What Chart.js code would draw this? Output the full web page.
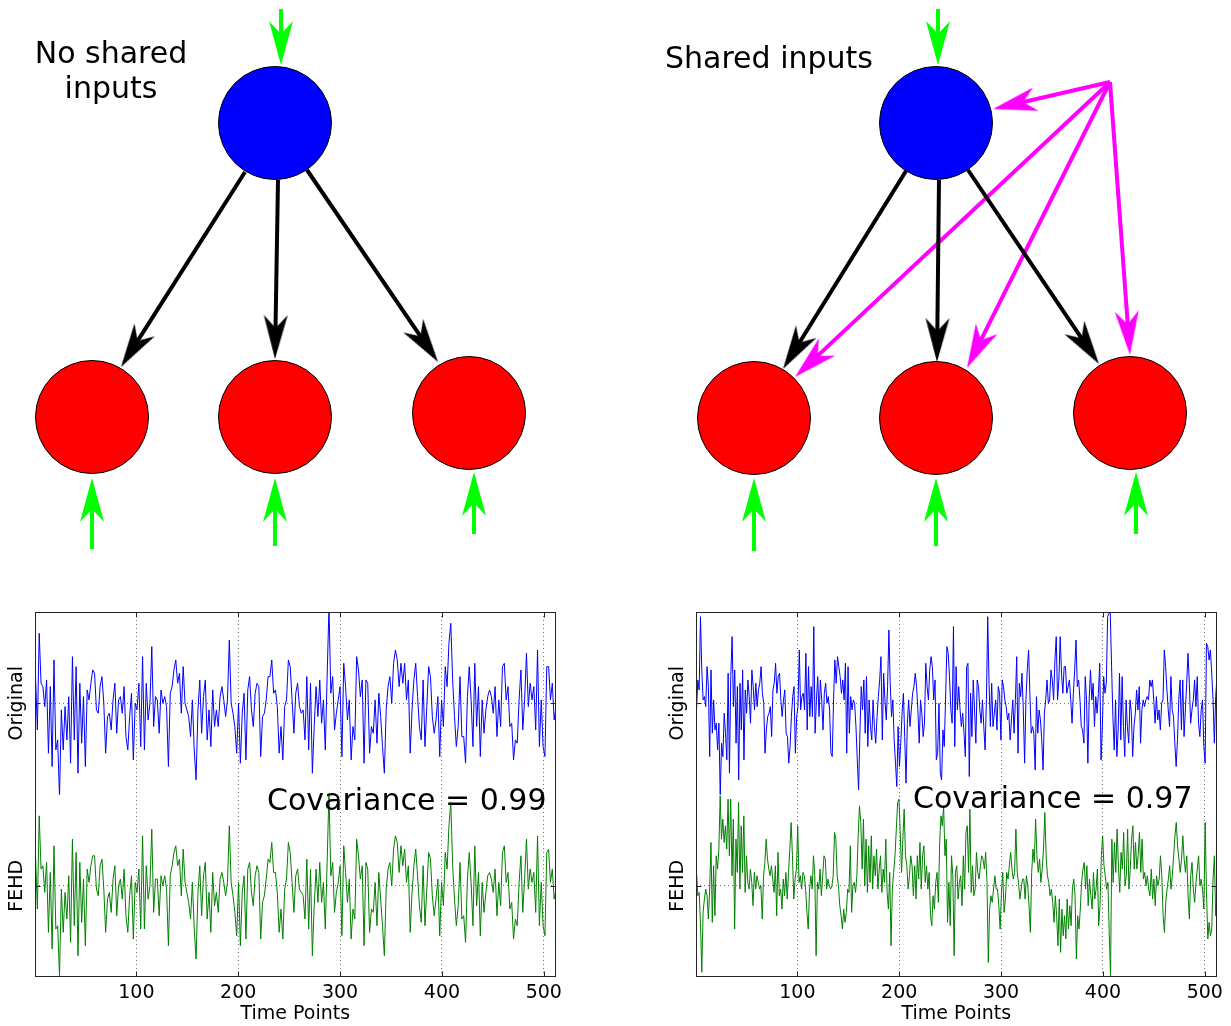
<!DOCTYPE html>
<html><head><meta charset="utf-8">
<script src="https://cdn.jsdelivr.net/npm/chart.js@4.4.0/dist/chart.umd.min.js"></script>
<style>
html,body{margin:0;padding:0;background:#fff;width:1231px;height:1026px;overflow:hidden;}
.box{position:absolute;}
.lbl{position:absolute;color:#000;white-space:nowrap;font-family:"DejaVu Sans",sans-serif;line-height:1;}
</style></head><body>
<div class="box" style="left:0;top:0;width:1231px;height:590px"><canvas id="diagram" width="1231" height="590"></canvas></div>
<div class="box" style="left:0;top:600px;width:570px;height:426px"><canvas id="panelA" width="570" height="426"></canvas></div>
<div class="box" style="left:661px;top:600px;width:570px;height:426px"><canvas id="panelB" width="570" height="426"></canvas></div>
<div class="lbl" id="titleA" style="left:11px;top:35px;width:200px;text-align:center;font-size:30px;line-height:35px">No shared<br>inputs</div>
<div class="lbl" id="titleB" style="left:665px;top:43px;font-size:30px">Shared inputs</div>
<div class="lbl" id="covA" style="left:267px;top:785px;font-size:30px"></div>
<div class="lbl" id="covB" style="left:913px;top:783px;font-size:30px"></div>
<script>
// ---------- data ----------
const timeTicks = [100, 200, 300, 400, 500];
const timeStart = 1, timeEnd = 512;
const covariances = [0.99, 0.97];

// No shared inputs: original signal and its FEHD reconstruction
const origNoShared = [0.8,-0.8,2.1,0.6,0.5,-0.1,0.7,-1.5,0.5,-1.9,1.3,-1.4,-1.1,-2.8,-0.2,-1.4,-0.1,-1.1,0.2,-1.8,1.4,-1.1,1.1,-2.1,0.6,-1.2,0.2,-1.9,0.4,0.1,0.6,1.0,0.9,-0.2,-0.3,0.5,0.8,0.0,-1.5,-0.4,-0.3,-0.8,0.1,0.6,-0.9,0.1,0.2,-0.3,0.5,-1.0,-1.4,-0.4,0.3,-1.7,0.0,-0.2,0.6,-1.3,1.4,-1.4,0.6,-0.5,0.0,1.7,-0.7,0.2,0.1,-0.9,0.4,0.0,0.2,-0.1,-1.9,0.3,0.5,1.0,1.3,0.6,0.9,-0.3,1.1,0.0,-0.2,-0.4,-1.0,0.1,-1.4,-2.3,-0.2,0.7,-0.9,0.2,0.7,-1.1,-0.2,-1.3,0.4,-0.7,-0.2,-0.7,0.2,0.5,0.1,-0.4,0.1,1.9,0.0,-0.3,-0.7,-1.5,0.0,-1.8,-0.3,0.3,-1.7,0.4,0.8,-0.2,-0.7,0.3,0.6,0.5,-1.6,-0.4,-0.3,0.1,0.8,0.8,1.3,0.3,0.4,-0.1,-1.5,-0.7,-1.7,-0.1,0.1,1.3,1.1,0.1,-0.9,0.3,0.6,-0.1,-0.3,
-0.2,-1.1,0.8,-1.4,0.6,-2.1,-0.7,0.5,-0.4,0.7,-0.6,0.1,-1.4,0.8,2.9,0.3,0.8,-0.8,-0.3,0.1,0.5,-1.6,1.2,0.5,-0.5,0.1,-1.7,-0.7,-1.1,1.4,1.0,0.2,0.7,-1.8,0.7,0.6,-1.5,-0.7,-0.9,0.1,-1.2,0.3,-0.4,-1.3,-2.1,-0.2,0.5,0.8,0.0,1.2,1.6,1.3,0.5,1.2,0.6,1.2,0.1,0.7,-1.5,-0.2,0.7,1.2,0.2,-0.7,-1.1,0.7,-1.3,-0.1,1.1,0.8,-0.4,-0.9,-0.5,0.2,-1.6,0.1,-0.7,1.1,0.5,1.8,2.4,0.7,-0.4,-1.3,-0.7,0.8,-1.0,-1.0,-1.8,0.2,1.1,0.1,-1.3,1.2,-0.7,0.5,-1.6,0.1,-0.9,-0.2,0.2,0.4,0.2,-0.3,0.5,-1.0,0.1,-0.7,1.1,1.2,0.1,0.5,-0.7,-0.6,-1.7,-1.1,-1.2,0.1,1.0,-0.8,0.1,1.5,-0.1,0.6,0.1,0.5,-0.8,1.6,-1.3,0.1,-1.3,-1.6,1.1,1.1,0.1,0.6,-0.5,-0.1];
const fehdNoShared = [0.9,-0.7,2.1,0.5,0.6,-0.2,0.7,-1.4,0.4,-1.9,1.2,-1.3,-1.2,-2.7,-0.1,-1.4,-0.2,-1.0,0.3,-1.7,1.4,-1.2,1.0,-2.1,0.7,-1.1,0.2,-1.8,0.5,0.1,0.6,0.9,0.9,-0.1,-0.3,0.6,0.8,-0.1,-1.4,-0.4,-0.2,-0.8,0.2,0.6,-0.9,0.0,0.2,-0.4,0.5,-0.9,-1.4,-0.3,0.3,-1.6,0.1,-0.2,0.5,-1.3,1.5,-1.3,0.6,-0.4,0.0,1.7,-0.8,0.2,0.2,-0.9,0.3,0.0,0.3,-0.1,-1.8,0.3,0.6,1.0,1.2,0.6,0.8,-0.3,1.1,0.1,-0.2,-0.5,-1.0,0.1,-1.3,-2.2,-0.2,0.6,-0.9,0.3,0.7,-1.0,-0.2,-1.4,0.4,-0.6,-0.2,-0.8,0.2,0.4,0.1,-0.3,0.1,1.8,0.1,-0.3,-0.8,-1.5,0.1,-1.8,-0.2,0.3,-1.6,0.5,0.7,-0.2,-0.6,0.3,0.6,0.4,-1.6,-0.5,-0.3,0.2,0.8,0.7,1.3,0.4,0.4,-0.2,-1.4,-0.7,-1.6,-0.1,0.2,1.3,1.0,0.1,-0.8,0.3,0.5,-0.1,-0.2,
-0.3,-1.0,0.8,-1.3,0.5,-2.1,-0.6,0.5,-0.5,0.7,-0.5,0.1,-1.3,0.7,2.8,0.3,0.7,-0.8,-0.2,0.1,0.6,-1.5,1.2,0.4,-0.5,0.2,-1.6,-0.7,-1.0,1.4,0.9,0.2,0.6,-1.8,0.7,0.5,-1.4,-0.7,-0.8,0.1,-1.2,0.4,-0.4,-1.2,-2.1,-0.1,0.5,0.7,0.0,1.1,1.5,1.3,0.4,1.2,0.6,1.1,0.1,0.6,-1.4,-0.2,0.6,1.1,0.3,-0.6,-1.1,0.6,-1.2,-0.1,1.0,0.8,-0.3,-0.9,-0.4,0.2,-1.5,0.1,-0.6,1.0,0.5,1.8,2.5,0.6,-0.4,-1.2,-0.6,0.7,-1.0,-0.9,-1.7,0.2,1.0,0.1,-1.2,1.2,-0.6,0.4,-1.5,0.1,-0.8,-0.2,0.3,0.4,0.2,-0.2,0.5,-0.9,0.1,-0.6,1.0,1.2,0.1,0.4,-0.7,-0.5,-1.6,-1.0,-1.2,0.1,0.9,-0.8,0.2,1.4,-0.1,0.5,0.1,0.4,-0.8,1.5,-1.2,0.1,-1.2,-1.5,1.0,1.1,0.1,0.5,-0.4,-0.1];

// Shared inputs: original signal and its FEHD reconstruction
const origShared = [-0.2,0.7,0.4,2.6,1.0,0.1,0.2,-0.1,1.1,0.5,-1.6,1.0,-0.9,0.1,-0.8,-0.6,-1.4,-0.6,-2.8,-1.2,-1.6,-0.3,-0.9,-1.7,0.9,-2.1,0.8,2.0,-0.1,1.0,-1.2,0.5,-2.3,0.6,-0.8,1.0,-1.7,0.4,-0.3,0.7,0.2,-0.6,1.0,0.5,-0.2,0.6,-0.1,0.4,0.6,1.1,0.3,0.0,-1.5,-0.8,-0.4,-0.3,-0.1,-1.0,0.4,0.6,1.2,0.3,0.8,0.9,0.1,-0.4,0.1,0.4,-0.9,-1.0,-1.8,-1.3,-0.4,0.2,0.5,-1.5,-0.4,-0.1,1.6,-0.2,0.2,0.3,-0.2,1.5,-0.8,1.1,-0.4,0.5,-0.4,2.3,-0.9,0.1,0.8,-0.4,0.7,0.1,-0.8,0.3,0.6,0.0,0.2,-0.2,-1.5,-1.6,0.1,1.3,0.6,1.4,1.1,0.8,0.3,0.7,0.1,1.2,-1.5,1.1,-0.9,0.2,-0.2,0.1,0.0,-0.7,-1.7,-2.6,-0.9,0.5,-0.2,0.7,-0.9,0.8,-1.3,0.1,-0.7,-1.1,0.1,-0.7,-1.2,-0.4,0.2,0.7,1.4,-1.1,0.9,0.1,-0.5,0.5,2.2,0.6,-0.4,0.1,-1.1,-1.8,-2.5,-0.7,-1.9,-1.2,-0.3,0.3,-1.0,-2.4,-0.6,0.1,-0.7,-0.2,0.3,0.5,0.9,0.5,-0.2,-1.2,0.1,-0.3,-1.0,-0.6,1.2,0.5,0.1,1.0,1.4,1.1,0.1,0.7,-1.7,-1.5,0.0,-2.1,-2.3,-0.8,-1.3,0.1,1.7,1.5,
0.8,-0.2,-0.6,2.3,-1.3,1.1,-0.2,0.5,-0.2,-0.7,-0.3,-0.9,-1.6,1.1,1.2,-2.2,0.3,-1.0,0.7,-0.2,-1.2,0.7,0.5,-0.2,-0.6,0.1,-0.7,-1.4,0.1,2.6,0.6,-0.7,0.6,-0.7,-0.3,0.1,-0.8,0.5,0.3,-1.1,0.7,0.5,0.1,-0.1,-0.5,-0.3,-1.1,-0.5,0.1,-0.9,0.1,1.4,-1.5,0.6,0.2,0.9,-0.2,-1.8,0.1,1.0,1.6,0.3,-0.9,-0.7,-0.9,-2.0,0.2,-0.9,-0.2,-0.5,-1.1,-2.0,-0.3,0.1,0.7,0.0,0.1,1.0,0.7,0.1,1.3,2.0,0.1,0.7,2.0,0.9,0.3,1.1,1.1,0.3,0.5,0.7,0.1,-0.6,0.3,1.0,1.9,0.5,0.7,0.1,-0.7,-0.8,-1.2,0.8,0.1,-1.8,0.1,1.0,0.1,0.6,-0.7,0.2,-0.3,0.3,1.2,-1.7,-0.7,0.8,0.3,0.6,2.6,2.7,2.7,1.1,-0.4,-1.4,0.1,-1.6,-0.8,0.9,-1.1,0.8,-0.7,-1.6,0.1,-0.7,-1.2,0.1,-0.3,-1.6,-0.7,-0.3,0.4,-0.2,0.5,-1.2,-0.2,0.1,-0.1,0.1,0.2,0.1,0.7,0.5,0.7,0.1,-0.6,0.2,-0.5,-0.2,-0.8,0.0,0.1,1.6,1.1,0.4,-0.2,-0.7,0.8,-0.2,-0.4,-1.2,-1.9,-1.1,0.1,0.7,-0.8,0.7,-1.0,-0.2,0.6,1.5,0.6,-0.6,-0.2,0.1,0.7,-0.1,0.8,-0.6,-1.0,-0.2,0.1,-1.3,-1.8,1.8,1.7,1.3,1.6,0.9,0.1,-1.2,0.2,0.8];
const fehdShared = [0.4,-0.3,-0.2,-1.1,-2.6,-0.8,-0.4,-0.1,-0.3,-1.0,-0.1,1.3,-1.1,0.6,-0.9,0.9,0.5,1.1,2.7,1.4,2.0,1.3,1.8,1.1,2.6,0.9,2.6,0.3,2.0,-1.3,1.4,0.4,2.5,-0.1,1.8,0.4,2.1,-0.2,0.9,0.1,-0.1,0.5,0.1,-0.6,0.4,-0.1,0.3,0.1,-0.1,0.0,-1.0,0.3,0.7,1.4,0.8,0.5,0.3,0.6,0.2,-0.2,0.6,-0.9,1.0,-0.3,-0.1,-0.7,0.2,-0.3,0.4,-0.4,0.4,1.1,1.9,0.9,-0.4,0.2,0.5,1.8,0.1,0.3,-0.1,0.4,0.3,-0.1,-0.8,-1.3,-0.1,0.3,-0.1,0.9,0.3,-2.1,0.1,-0.1,0.5,-0.3,0.3,0.9,0.8,-0.1,0.2,0.0,-0.1,0.0,0.3,1.6,1.4,0.3,0.0,-0.6,-0.9,-1.3,-0.7,-1.1,-0.8,-0.1,-0.2,1.2,-0.8,0.0,0.1,-0.2,0.3,1.5,2.4,1.9,0.5,2.0,0.0,1.4,-0.2,1.2,0.1,1.5,-0.1,0.9,0.3,1.1,-0.1,0.5,0.9,-0.2,0.5,0.1,1.4,-0.2,-0.7,0.4,-1.8,-0.1,0.4,0.9,1.7,2.5,2.6,1.6,0.4,1.4,2.3,0.9,0.6,-0.1,0.3,0.9,0.6,-0.3,0.6,-0.4,0.9,0.2,1.3,-0.1,0.9,1.2,0.1,0.6,-0.1,0.4,-0.9,-1.2,-0.3,-0.7,0.1,0.4,-0.5,1.3,2.1,1.8,2.4,0.9,1.4,-1.1,0.1,
-1.2,0.9,0.3,-2.1,0.4,0.6,-0.4,0.1,0.3,-0.6,0.9,-0.1,1.6,1.8,0.4,2.3,-0.2,0.6,-0.3,-0.1,1.0,0.4,0.2,0.6,0.9,0.8,0.5,1.0,0.1,-2.3,-0.7,-0.3,-0.5,-0.1,0.3,-0.1,-0.1,-0.6,-1.3,-0.2,0.4,-0.8,-0.4,0.4,0.2,0.6,1.0,0.5,0.2,0.4,1.7,0.4,0.1,-0.4,-0.1,0.2,0.2,-0.4,0.3,0.0,-0.6,-1.4,0.4,1.1,0.7,2.0,0.9,0.4,0.8,0.1,0.5,1.1,2.2,0.9,0.3,0.1,-0.3,-0.1,-0.5,-1.1,-0.3,-0.9,-1.8,-0.4,-2.0,-0.7,-1.5,-0.9,-1.6,-0.4,-1.3,-0.6,-1.2,-0.1,0.2,-0.3,-2.2,-0.9,-1.3,-0.7,0.1,0.5,0.7,-0.1,0.6,-0.6,0.2,-0.3,-0.7,0.4,-0.4,-0.1,0.5,-1.2,-0.6,0.9,1.5,0.6,0.3,-0.1,0.1,-1.4,-2.7,1.4,0.1,1.3,0.4,1.7,0.6,-0.2,1.0,0.5,1.6,0.0,0.3,1.7,-0.1,0.5,1.4,1.8,0.5,1.3,0.5,0.9,1.6,0.4,1.4,0.2,0.4,0.0,0.3,-0.1,-0.3,0.5,-0.4,0.2,-0.6,0.3,0.0,0.2,0.9,0.3,-0.9,-1.4,-0.5,-0.1,0.2,0.6,-0.1,0.3,0.9,1.5,1.9,1.2,0.8,0.4,0.8,1.5,0.8,0.4,0.9,-0.3,-1.0,0.3,0.7,-0.1,-0.5,0.1,0.5,0.9,0.0,0.2,-0.1,-0.7,1.9,-0.2,-1.6,-1.1,-1.5,-1.3,0.2,0.9,-0.9,-0.3];

// Network diagrams (diagram units: 1 unit = 100 px of the figure)
const diagramNodes = [ // [x, y, role]
  [2.75, 1.23, 'driver'], [0.92, 4.17, 'target'], [2.75, 4.17, 'target'], [4.69, 4.13, 'target'],
  [9.36, 1.23, 'driver'], [7.54, 4.18, 'target'], [9.36, 4.18, 'target'], [11.30, 4.13, 'target']
];
const diagramArrows = [ // [xFrom, yFrom, xTo, yTo, kind]
  [2.81, 0.09, 2.81, 0.65, 'input'], [0.92, 5.49, 0.92, 4.78, 'input'], [2.75, 5.46, 2.75, 4.78, 'input'], [4.74, 5.34, 4.74, 4.72, 'input'],
  [2.45, 1.72, 1.21, 3.67, 'link'], [2.78, 1.80, 2.75, 3.59, 'link'], [3.07, 1.70, 4.38, 3.62, 'link'],
  [9.38, 0.09, 9.38, 0.65, 'input'], [7.54, 5.51, 7.54, 4.78, 'input'], [9.36, 5.46, 9.36, 4.78, 'input'], [11.36, 5.34, 11.36, 4.72, 'input'],
  [9.06, 1.71, 7.83, 3.69, 'link'], [9.39, 1.80, 9.37, 3.62, 'link'], [9.68, 1.70, 10.99, 3.64, 'link'],
  [11.10, 0.82, 9.93, 1.09, 'shared'], [11.10, 0.82, 7.95, 3.77, 'shared'], [11.10, 0.82, 9.67, 3.68, 'shared'], [11.10, 0.82, 11.30, 3.55, 'shared']
];
const panelTitles = ['No shared\ninputs', 'Shared inputs'];

// ---------- styles ----------
const FONT = 'DejaVu Sans';
Chart.defaults.font.family = FONT;
const nodeFill = {driver: '#0000ff', target: '#ff0000'};
const arrowColor = {input: '#00ff00', link: '#000000', shared: '#ff00ff'};

function headImage(color) {
  const c = document.createElement('canvas');
  c.width = 100; c.height = 100;
  const g = c.getContext('2d');
  g.fillStyle = color;
  g.beginPath();
  g.moveTo(50, 50); g.lineTo(6, 38); g.lineTo(19, 50); g.lineTo(6, 62); g.closePath();
  g.fill();
  return c;
}

// ---------- diagram chart ----------
const heads = {};
Object.keys(arrowColor).forEach(k => heads[k] = headImage(arrowColor[k]));
const headSets = [], shaftSets = [];
Object.keys(arrowColor).forEach(kind => {
  const list = diagramArrows.filter(a => a[4] === kind);
  headSets.push({
    data: list.map(a => ({x: a[2], y: a[3]})),
    showLine: false,
    pointStyle: heads[kind],
    pointRadius: 5,
    pointRotation: list.map(a => Math.atan2(a[3] - a[1], a[2] - a[0]) * 180 / Math.PI)
  });
  list.forEach(a => {
    const dx = a[2] - a[0], dy = a[3] - a[1], len = Math.hypot(dx, dy);
    const back = 0.28;
    shaftSets.push({
      data: [{x: a[0], y: a[1]}, {x: a[2] - dx / len * back, y: a[3] - dy / len * back}],
      showLine: true, borderColor: arrowColor[kind], borderWidth: 4,
      borderCapStyle: 'butt', pointRadius: 0
    });
  });
});
const nodeSet = {
  data: diagramNodes.map(n => ({x: n[0], y: n[1]})),
  showLine: false,
  pointRadius: 56.5,
  pointBackgroundColor: diagramNodes.map(n => nodeFill[n[2]]),
  pointBorderColor: '#000',
  pointBorderWidth: 1
};
new Chart(document.getElementById('diagram'), {
  type: 'scatter',
  data: {datasets: [...headSets, ...shaftSets, nodeSet]},
  options: {
    responsive: false, animation: false, events: [],
    layout: {padding: 0, autoPadding: false},
    plugins: {legend: {display: false}, tooltip: {enabled: false}},
    scales: {
      x: {type: 'linear', min: 0, max: 12.31, display: false},
      y: {type: 'linear', min: 0, max: 5.90, reverse: true, display: false}
    }
  }
});

// ---------- time-series panels ----------
const framePlugin = {
  id: 'frame',
  afterDraw(chart) {
    const {ctx, chartArea: a, scales} = chart;
    const L = Math.round(a.left) + 0.5, R = Math.round(a.right) - 0.5;
    const T = Math.round(a.top) + 0.5, B = Math.round(a.bottom) - 0.5;
    ctx.save();
    ctx.strokeStyle = '#262626';
    ctx.lineWidth = 1;
    ctx.strokeRect(L, T, R - L, B - T);
    ctx.beginPath();
    scales.x.ticks.forEach(t => {
      const px = Math.round(scales.x.getPixelForValue(t.value)) + 0.5;
      ctx.moveTo(px, B); ctx.lineTo(px, B - 5);
      ctx.moveTo(px, T); ctx.lineTo(px, T + 5);
    });
    ['yOrig', 'yFehd'].forEach(id => {
      const py = Math.round(scales[id].getPixelForValue(0)) + 0.5;
      ctx.moveTo(L, py); ctx.lineTo(L + 5, py);
      ctx.moveTo(R, py); ctx.lineTo(R - 5, py);
    });
    ctx.stroke();
    ctx.restore();
  }
};

function toPoints(arr) {
  return arr.map((v, i) => ({x: timeStart + i * (timeEnd - timeStart) / (arr.length - 1), y: v}));
}
function yAxis(title, weight) {
  return {
    type: 'linear', position: 'left', stack: 'signals', stackWeight: 1, weight: weight,
    min: -2.74, max: 2.74,
    afterBuildTicks: s => { s.ticks = [{value: 0}]; },
    afterFit: s => { s.width = 34.5; },
    ticks: {display: false},
    grid: {color: 'rgba(0,0,0,0.55)', drawTicks: false, lineWidth: 1},
    border: {display: false, dash: [1, 3]},
    title: {display: true, text: title, color: '#000', font: {family: FONT, size: 19}, padding: {top: 6, bottom: 0}}
  };
}
function panelConfig(orig, fehd) {
  return {
    type: 'line',
    data: {datasets: [
      {label: 'Original', data: toPoints(orig), yAxisID: 'yOrig', borderColor: '#0000ff', borderWidth: 1, pointRadius: 0, tension: 0, fill: false},
      {label: 'FEHD', data: toPoints(fehd), yAxisID: 'yFehd', borderColor: '#008000', borderWidth: 1, pointRadius: 0, tension: 0, fill: false}
    ]},
    options: {
      responsive: false, animation: false, events: [],
      layout: {padding: {top: 12, right: 14, left: 0, bottom: 0}, autoPadding: false},
      plugins: {legend: {display: false}, tooltip: {enabled: false}},
      scales: {
        x: {
          type: 'linear', min: 0, max: 512,
          afterBuildTicks: s => { s.ticks = timeTicks.map(v => ({value: v})); },
          afterFit: s => { s.height = 49; },
          grid: {color: 'rgba(0,0,0,0.55)', drawTicks: false, lineWidth: 1},
          border: {display: false, dash: [1, 3]},
          ticks: {color: '#000', font: {family: FONT, size: 19}, padding: 5, maxRotation: 0, autoSkip: false},
          title: {display: true, text: 'Time Points', color: '#000', font: {family: FONT, size: 19}, padding: {top: 0, bottom: 1}}
        },
        yOrig: yAxis('Original', 2),
        yFehd: yAxis('FEHD', 1)
      }
    },
    plugins: [framePlugin]
  };
}
new Chart(document.getElementById('panelA'), panelConfig(origNoShared, fehdNoShared));
new Chart(document.getElementById('panelB'), panelConfig(origShared, fehdShared));

// ---------- text ----------
document.getElementById('titleA').innerHTML = panelTitles[0].replace('\n', '<br>');
document.getElementById('titleB').textContent = panelTitles[1];
document.getElementById('covA').textContent = 'Covariance = ' + covariances[0].toFixed(2);
document.getElementById('covB').textContent = 'Covariance = ' + covariances[1].toFixed(2);
</script>
</body></html>
